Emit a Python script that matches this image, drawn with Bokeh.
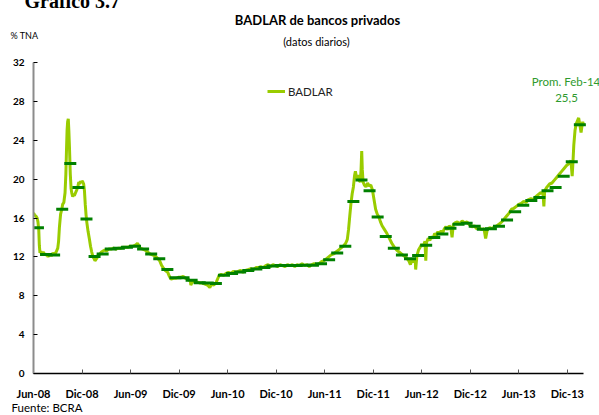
from bokeh.plotting import figure
from bokeh.models import Range1d, FixedTicker, Label, Legend, LegendItem, ColumnDataSource
from bokeh.embed import file_html
from bokeh.resources import INLINE

# ---------------- data ----------------
tick_months = [0, 6, 12, 18, 24, 30, 36, 42, 48, 54, 60, 66]
tick_labels = ["Jun-08", "Dic-08", "Jun-09", "Dic-09", "Jun-10", "Dic-10",
               "Jun-11", "Dic-11", "Jun-12", "Dic-12", "Jun-13", "Dic-13"]
y_ticks = [0, 4, 8, 12, 16, 20, 24, 28, 32]

# monthly averages (one per month, starting Jun-08)
monthly_avg = [15.0, 12.25, 12.2, 16.9, 21.6, 19.15, 15.9, 12.05, 12.3, 12.8,
               12.9, 13.0, 13.1, 12.8, 12.3, 11.8, 10.7, 9.85, 9.85, 9.6,
               9.35, 9.3, 9.25, 10.1, 10.3, 10.45, 10.6, 10.75, 10.9, 11.05,
               11.1, 11.1, 11.1, 11.15, 11.15, 11.3, 11.7, 12.4, 13.1, 17.7,
               19.9, 18.8, 16.1, 14.1, 12.9, 12.2, 11.8, 12.15, 13.2, 14.0,
               14.35, 14.95, 15.35, 15.45, 15.15, 14.85, 14.9, 15.15, 15.8, 16.65,
               17.3, 17.8, 18.1, 18.8, 19.15, 20.3, 21.8, 25.6]

# daily series (time in months since start of Jun-08, rate in % TNA)
daily_t = [0.00, 0.15, 0.3, 0.45, 0.55, 0.65, 0.72, 0.8, 0.9, 1.0, 1.2, 1.4, 1.6, 1.8, 2.0, 2.2, 2.4, 2.6, 2.8,
           3.0, 3.1, 3.2, 3.35, 3.5, 3.6, 3.75, 3.9, 4.0, 4.08, 4.15, 4.22, 4.3, 4.37, 4.45, 4.55, 4.65, 4.75,
           4.85, 4.95, 5.05, 5.2, 5.35, 5.5, 5.6, 5.7, 5.8, 5.9, 6.0, 6.1, 6.2, 6.3, 6.4, 6.5, 6.6, 6.75, 6.9,
           7.05, 7.2, 7.35, 7.5, 7.6, 7.7, 7.85, 8.0, 8.2, 8.4, 8.6,
           8.8, 9.0, 9.3, 9.6, 9.9, 10.2, 10.5, 10.8, 11.1, 11.4, 11.7, 12.0, 12.3, 12.6, 12.85, 13.0, 13.2,
           13.5, 13.8, 14.1, 14.4, 14.7, 15.0, 15.3, 15.6, 15.8, 16.0, 16.3, 16.6, 16.8, 17.0, 17.3, 17.6,
           17.9, 18.2, 18.5, 18.8, 19.1, 19.4, 19.45, 19.7, 20.0, 20.3, 20.6,
           20.9, 21.2, 21.5, 21.8, 22.0, 22.3, 22.6, 22.8, 22.95, 23.2, 23.5, 23.8, 24.1, 24.4, 24.7, 25.0,
           25.3, 25.6, 25.9, 26.2, 26.6, 26.9, 27.2, 27.5, 27.8, 28.1, 28.4, 28.7, 29.0, 29.3, 29.6, 29.9,
           30.2, 30.5, 30.8, 31.1, 31.4, 31.7, 32.0, 32.3, 32.6, 32.9, 33.2, 33.5, 33.8, 34.1, 34.4, 34.7,
           35.0, 35.3, 35.6, 35.9, 36.2, 36.5,
           36.8, 37.1, 37.4, 37.7, 38.0, 38.3, 38.6, 38.8, 38.95, 39.1, 39.25, 39.4, 39.55, 39.7, 39.8, 39.95,
           40.1, 40.25, 40.4, 40.5, 40.58, 40.65, 40.75, 40.9, 41.1, 41.3, 41.5, 41.7, 41.9, 42.1, 42.3, 42.5,
           42.7, 42.9, 43.1, 43.4, 43.7, 44.0, 44.3, 44.6, 44.9, 45.2, 45.5, 45.8, 46.1, 46.4, 46.6, 46.8,
           47.0, 47.2, 47.25, 47.4, 47.6,
           47.8, 48.0, 48.2, 48.4, 48.5, 48.6, 48.8, 49.0, 49.2, 49.4, 49.6, 49.8, 50.0, 50.2, 50.4, 50.6,
           50.8, 51.0, 51.2, 51.4, 51.6, 51.75, 51.9, 52.1, 52.4, 52.7, 53.0, 53.3, 53.6, 53.9, 54.2, 54.5,
           54.8, 55.1, 55.4, 55.7, 55.9, 56.1, 56.4, 56.7, 57.0, 57.3, 57.6, 57.9, 58.2, 58.5, 58.8, 59.1,
           59.4, 59.7, 60.0, 60.3, 60.6, 60.9, 61.2, 61.5, 61.8, 62.1, 62.4, 62.7, 63.0, 63.1, 63.2, 63.5,
           63.8, 64.1, 64.4, 64.7, 65.0, 65.3, 65.6, 65.9, 66.2, 66.45, 66.6, 66.7, 66.8, 66.95, 67.1, 67.25,
           67.4, 67.55, 67.7, 67.8, 67.9, 68.0]
daily_v = [16.5, 16.3, 16.2, 16.0, 15.6, 14.8, 13.2, 12.4, 12.6, 12.3, 12.5, 12.2, 12.3, 12.0, 12.3, 12.1, 12.4, 12.2, 12.5,
           12.9, 13.6, 15.0, 16.4, 16.9, 17.4, 17.6, 18.6, 20.5, 23.0, 25.0, 25.9, 26.2, 25.0, 23.2, 20.5, 19.0, 18.5,
           18.2, 18.4, 18.3, 18.6, 18.9, 19.3, 19.7, 19.5, 19.8, 19.6, 19.8, 19.7, 19.5, 18.8, 17.4, 16.3, 15.5, 14.6, 13.9,
           13.1, 12.5, 12.0, 11.8, 11.6, 11.7, 11.9, 12.2, 12.3, 12.5, 12.6,
           12.7, 12.6, 12.8, 12.8, 12.9, 12.8, 12.9, 12.9, 13.0, 13.0, 13.0, 13.1, 13.1, 13.2, 13.4, 13.2, 12.9,
           12.8, 12.7, 12.5, 12.3, 12.2, 12.1, 11.9, 11.6, 11.2, 10.9, 10.6, 10.4, 10.0, 9.7, 9.8, 9.8,
           9.9, 9.9, 10.0, 9.8, 9.7, 9.5, 9.1, 9.5, 9.4, 9.4, 9.3,
           9.3, 9.2, 9.1, 8.85, 9.2, 9.1, 9.4, 9.8, 10.1, 10.2, 10.1, 10.3, 10.4, 10.3, 10.5, 10.4,
           10.5, 10.6, 10.4, 10.6, 10.7, 10.8, 10.7, 10.9, 10.9, 11.0, 10.9, 11.1, 11.2, 11.0, 11.2, 11.1,
           11.0, 11.2, 11.1, 11.0, 11.2, 11.1, 11.2, 11.0, 11.2, 11.1, 11.3, 11.1, 11.2, 11.0, 11.2, 11.3,
           11.2, 11.3, 11.5, 11.6, 11.8, 12.0,
           12.2, 12.3, 12.5, 12.7, 12.9, 13.1, 13.4, 13.8, 14.8, 16.2, 17.5, 18.5, 19.2, 20.4, 20.8, 20.1,
           20.4, 19.9, 19.7, 21.0, 22.9, 21.0, 19.7, 19.4, 19.2, 19.6, 19.3, 19.4, 18.9, 17.9, 16.9, 16.4,
           16.1, 15.6, 15.2, 14.8, 14.4, 13.9, 13.4, 13.0, 12.7, 12.5, 12.3, 12.1, 11.9, 11.6, 11.2, 11.7,
           11.5, 11.6, 10.7, 12.1, 12.7,
           13.0, 13.3, 13.1, 13.6, 11.6, 13.5, 13.9, 13.7, 14.1, 13.9, 14.4, 14.2, 14.6, 14.3, 14.7, 14.5,
           14.9, 15.1, 14.8, 15.2, 15.0, 14.0, 15.3, 15.5, 15.6, 15.4, 15.7, 15.5, 15.6, 15.3, 15.1, 15.2,
           14.9, 15.0, 14.8, 14.9, 13.9, 14.8, 15.0, 14.9, 15.1, 15.2, 15.4, 15.6, 15.9, 16.2, 16.5, 16.9,
           17.0, 17.2, 17.4, 17.5, 17.7, 17.6, 17.9, 18.0, 17.9, 18.2, 18.4, 18.6, 18.5, 17.2, 18.8, 19.2,
           19.5, 19.6, 19.9, 20.2, 20.5, 20.8, 21.1, 21.4, 21.6, 21.9, 20.3, 21.8, 23.5, 25.0, 25.7, 26.0,
           26.3, 25.6, 24.8, 25.4, 25.9, 25.6]

note_title = "Prom. Feb-14"
note_value = "25,5"

# ---------------- layout ----------------
W, H = 599, 415
FL, FR, FT, FB = 33, 583, 61, 374      # where the axes lie on the page
X_MAX, Y_MAX = 68, 32
X_END = X_MAX * (W - FL) / (FR - FL)   # frame runs to the right edge; axis stops at X_MAX

LIGHT = "#99cc00"
DARK = "#008000"
NOTE = "#2e9a2e"
FONT = "Lato"

p = figure(width=W, height=H, output_backend="svg", toolbar_location=None,
           x_range=Range1d(0, X_END), y_range=Range1d(0, Y_MAX),
           min_border_left=FL, min_border_right=0,
           min_border_top=FT, min_border_bottom=H - FB)
p.outline_line_color = None
p.xgrid.visible = False
p.ygrid.visible = False
p.background_fill_color = "white"
p.border_fill_color = "white"

# axes
p.xaxis.bounds = (0, X_MAX)
p.xaxis.ticker = FixedTicker(ticks=tick_months)
p.xaxis.major_label_overrides = {m: l for m, l in zip(tick_months, tick_labels)}
p.xaxis.minor_tick_line_color = None
p.xaxis.major_tick_in = 4
p.xaxis.major_tick_out = 0
p.xaxis.major_tick_line_color = "#555555"
p.xaxis.axis_line_color = "black"
p.xaxis.axis_line_width = 1.5
p.xaxis.major_label_standoff = 13
p.xaxis.major_label_text_font = FONT
p.xaxis.major_label_text_font_style = "bold"
p.xaxis.major_label_text_font_size = "11px"
p.xaxis.major_label_text_color = "black"

p.yaxis.ticker = FixedTicker(ticks=y_ticks)
p.yaxis.minor_tick_line_color = None
p.yaxis.major_tick_in = 4
p.yaxis.major_tick_out = 0
p.yaxis.major_tick_line_color = "black"
p.yaxis.axis_line_color = "#8c8c8c"
p.yaxis.axis_line_width = 2
p.yaxis.major_label_standoff = 9
p.yaxis.major_label_text_font = FONT
p.yaxis.major_label_text_font_style = "bold"
p.yaxis.major_label_text_font_size = "10px"
p.yaxis.major_label_text_color = "black"

# daily line
src_daily = ColumnDataSource(dict(t=daily_t, v=daily_v))
line = p.line("t", "v", source=src_daily, line_color=LIGHT, line_width=3)

# monthly averages (drawn at mid-month)
month_pos = [i + 0.55 for i in range(len(monthly_avg))]
src_avg = ColumnDataSource(dict(t=month_pos, v=monthly_avg))
p.scatter("t", "v", source=src_avg, marker="dash", size=12, line_width=3,
          line_color=DARK)

# legend
legend = Legend(items=[LegendItem(label="BADLAR", renderers=[line])],
                location=(267 - FL, FB - 99), padding=0, spacing=0, margin=0,
                glyph_width=18, glyph_height=14, label_height=14, label_standoff=3,
                border_line_color=None, background_fill_alpha=0,
                label_text_font=FONT, label_text_font_size="11.5px",
                label_text_color="#222222")
p.add_layout(legend, "center")


def add_text(txt, px, baseline, size, color="black", bold=False, align="center",
             font=FONT, place="center"):
    # px, baseline: page pixels from the top-left corner (canvas units)
    y = baseline - 0.45 * size
    p.add_layout(Label(x=px, y=y, x_units="canvas", y_units="canvas",
                       text=txt, text_align=align,
                       text_baseline="alphabetic", text_font=font,
                       text_font_size=f"{size}px", text_color=color,
                       text_font_style="bold" if bold else "normal"), place)


add_text("Gráfico 3.7", 24, 9.5, 20, bold=True, align="left", font="Liberation Serif", place="above")
add_text("BADLAR de bancos privados", 317, 25, 13, bold=True, place="above")
add_text("(datos diarios)", 316, 45.5, 11, place="above")
add_text("% TNA", 10, 39.5, 9, align="left", place="above")
add_text("Fuente: BCRA", 11, 412.5, 11.5, align="left", place="below")
add_text(note_title, 565.5, 86, 11.5, color=NOTE)
add_text(note_value, 566, 103, 11.5, color=NOTE)

open("out.html", "w").write(file_html(p, INLINE))
